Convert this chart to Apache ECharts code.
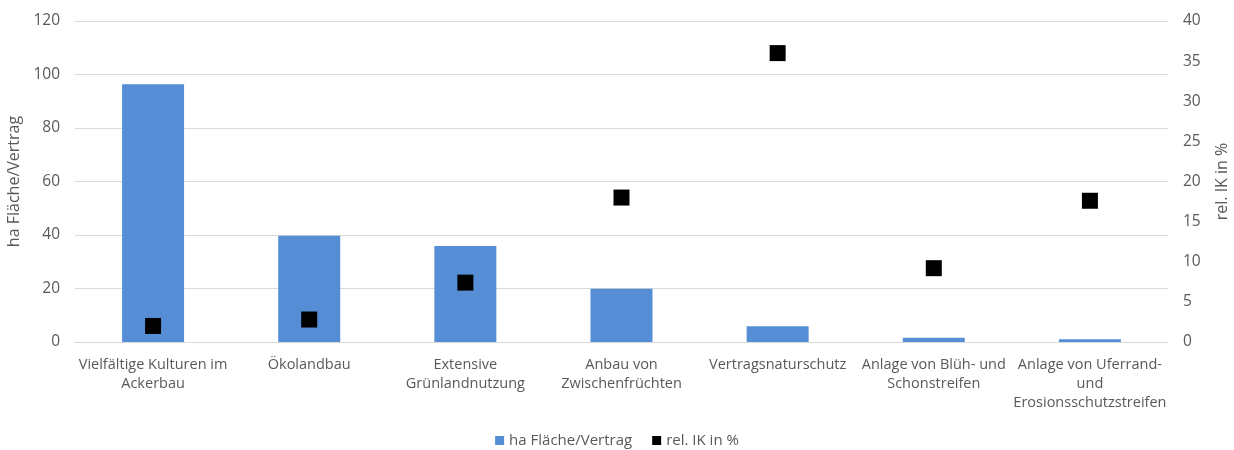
<!DOCTYPE html>
<html>
<head>
<meta charset="utf-8">
<script src="https://cdn.jsdelivr.net/npm/echarts@6/dist/echarts.min.js"></script>
<style>
  html, body { margin: 0; padding: 0; background: #fff; }
  #main { width: 1234px; height: 450px; }
</style>
</head>
<body>
<div id="main"></div>
<script>
// Kategorien (x-Achse)
var categories = [
    'Vielfältige Kulturen im\nAckerbau',
    'Ökolandbau',
    'Extensive\nGrünlandnutzung',
    'Anbau von\nZwischenfrüchten',
    'Vertragsnaturschutz',
    'Anlage von Blüh- und\nSchonstreifen',
    'Anlage von Uferrand-\nund\nErosionsschutzstreifen'
];
// ha Fläche/Vertrag (linke Achse)
var haFlaeche = [96.4, 39.7, 35.9, 19.9, 5.9, 1.6, 1.0];
// rel. IK in % (rechte Achse)
var relIK = [2.0, 2.8, 7.4, 18.0, 36.0, 9.2, 17.6];

var textColor = '#595959';
var fontName = 'Open Sans';

var myChart = echarts.init(document.getElementById('main'));

var option = {
    animation: false,
    textStyle: { fontFamily: fontName, color: textColor },
    grid: { left: 75, right: 66, top: 21, bottom: 108, containLabel: false, outerBoundsMode: 'none' },
    legend: {
        bottom: -3,
        left: 'center',
        itemWidth: 9,
        itemHeight: 9,
        itemGap: 20,
        textStyle: { fontSize: 15, color: textColor, fontFamily: fontName },
        data: [
            { name: 'ha Fläche/Vertrag', icon: 'rect' },
            { name: 'rel. IK in %', icon: 'rect' }
        ]
    },
    xAxis: {
        type: 'category',
        data: categories,
        axisLine: { lineStyle: { color: '#d9d9d9' } },
        axisTick: { show: false },
        axisLabel: {
            interval: 0,
            color: textColor,
            fontSize: 14.5,
            lineHeight: 19,
            margin: 13,
            fontFamily: fontName
        }
    },
    yAxis: [
        {
            type: 'value',
            min: 0,
            max: 120,
            interval: 20,
            name: 'ha Fläche/Vertrag',
            nameLocation: 'middle',
            nameGap: 50,
            nameTextStyle: { color: textColor, fontSize: 16, fontFamily: fontName },
            axisLine: { show: false },
            axisTick: { show: false },
            axisLabel: { color: textColor, fontSize: 15.5, margin: 15, fontFamily: fontName },
            splitLine: { lineStyle: { color: '#d9d9d9', width: 1 } }
        },
        {
            type: 'value',
            min: 0,
            max: 40,
            interval: 5,
            position: 'right',
            name: 'rel. IK in %',
            nameLocation: 'middle',
            nameGap: 46,
            nameRotate: 90,
            nameTextStyle: { color: textColor, fontSize: 16, fontFamily: fontName },
            axisLine: { show: false },
            axisTick: { show: false },
            axisLabel: { color: textColor, fontSize: 15.5, margin: 15, fontFamily: fontName },
            splitLine: { show: false }
        }
    ],
    series: [
        {
            name: 'ha Fläche/Vertrag',
            type: 'bar',
            data: haFlaeche,
            barWidth: 62,
            itemStyle: { color: '#558ed5' }
        },
        {
            name: 'rel. IK in %',
            type: 'scatter',
            yAxisIndex: 1,
            data: relIK,
            symbol: 'rect',
            symbolSize: 16,
            itemStyle: { color: '#000000', opacity: 1 },
            z: 5
        }
    ]
};

myChart.setOption(option);
</script>
</body>
</html>
